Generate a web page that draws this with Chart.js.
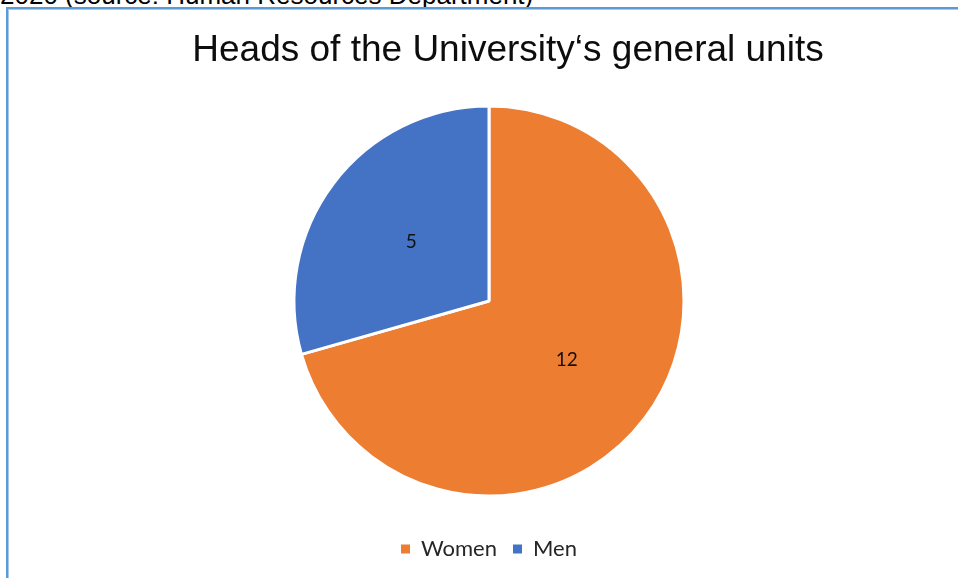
<!DOCTYPE html>
<html>
<head>
<meta charset="utf-8">
<script src="https://cdn.jsdelivr.net/npm/chart.js@4"></script>
<style>
  html, body { margin: 0; padding: 0; background: #fff; overflow: hidden; }
  body { width: 958px; height: 578px; position: relative; }
  #caption {
    position: absolute; left: 0; top: -18px; margin: 0;
    font: 26px "Liberation Sans", Arial, sans-serif; line-height: 26px;
    color: #000; white-space: nowrap;
  }
  #frame {
    position: absolute; left: 6px; top: 7px; width: 1000px; height: 600px;
    border-left: 2px solid #5b9bd5; border-top: 2px solid #5b9bd5;
    box-shadow: inset 1px 1px 0 #a9c9ea;
  }
  #title {
    position: absolute; left: 0; top: 30px; width: 1016px; margin: 0;
    font: normal 37px "Liberation Sans", Arial, sans-serif; line-height: 37px;
    color: #0d0d0d; text-align: center; white-space: nowrap;
  }
  #wrap { position: absolute; left: 0; top: 0; width: 958px; height: 578px; }
</style>
</head>
<body>
<p id="caption">2020 (source: Human Resources Department)</p>
<div id="frame"></div>
<div id="wrap"><canvas id="unitsChart"></canvas></div>
<h2 id="title"></h2>
<script>
const titleText = 'Heads of the University\u2018s general units';
const labels = ['Women', 'Men'];
const heads = [12, 5];
const colors = ['#ed7d31', '#4472c4'];

document.getElementById('title').textContent = titleText;

// writes each slice's value at the middle of the slice
const sliceValues = {
  id: 'sliceValues',
  afterDatasetsDraw(chart) {
    const ctx = chart.ctx;
    const meta = chart.getDatasetMeta(0);
    ctx.save();
    ctx.font = '19px Lato, "Open Sans", sans-serif';
    ctx.fillStyle = '#111';
    ctx.textAlign = 'center';
    ctx.textBaseline = 'middle';
    meta.data.forEach(function(arc, i) {
      const p = arc.tooltipPosition();
      ctx.fillText(String(chart.data.datasets[0].data[i]), p.x, p.y);
    });
    ctx.restore();
  }
};

var ctx = document.getElementById('unitsChart');
var unitsChart = new Chart(ctx, {
    type: 'pie',
    data: {
        labels: labels,
        datasets: [
            {
                data: heads,
                backgroundColor: colors,
                borderColor: '#ffffff',
                borderWidth: 3,
                radius: 195
            }
        ]
    },
    options: {
        responsive: true,
        maintainAspectRatio: false,
        animation: false,
        layout: {
            padding: { left: 20, right: 0, top: 80, bottom: 8 }
        },
        plugins: {
            title: { display: false },
            legend: {
                position: 'bottom',
                labels: {
                    color: '#262626',
                    font: { family: 'Lato, "Open Sans", sans-serif', size: 22 },
                    boxWidth: 9,
                    boxHeight: 9,
                    padding: 16,
                    // plain squares, without the white slice border
                    generateLabels: function(chart) {
                        const items = Chart.overrides.pie.plugins.legend.labels.generateLabels(chart);
                        items.forEach(function(item) { item.lineWidth = 0; });
                        return items;
                    }
                }
            },
            tooltip: { enabled: false }
        }
    },
    plugins: [sliceValues]
});
</script>
</body>
</html>
